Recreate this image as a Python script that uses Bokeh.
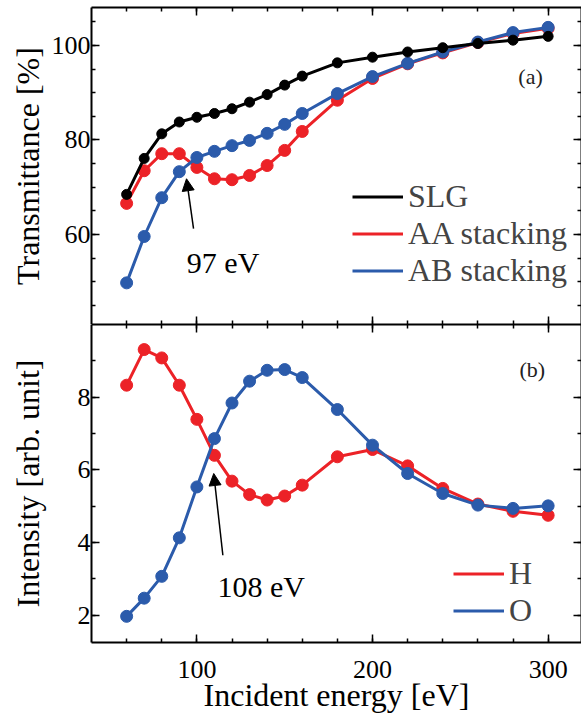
from bokeh.plotting import figure
from bokeh.models import (Range1d, LinearAxis, FixedTicker, Legend, LegendItem,
                          Label, Arrow, NormalHead, CustomJSTickFormatter)
from bokeh.layouts import column
from bokeh.embed import file_html
from bokeh.resources import INLINE

# ---------------- data ----------------
energy = [60, 70, 80, 90, 100, 110, 120, 130, 140, 150, 160, 180, 200, 220, 240, 260, 280, 300]
slg = [68.5, 76.1, 81.3, 83.8, 84.8, 85.6, 86.6, 88.0, 89.6, 91.6, 93.5, 96.3, 97.5, 98.6, 99.5, 100.4, 101.1, 101.9]
aa = [66.6, 73.5, 77.1, 77.1, 74.2, 71.8, 71.6, 72.5, 74.6, 77.8, 81.8, 88.4, 93.0, 96.1, 98.4, 100.6, 102.5, 103.6]
ab = [49.8, 59.6, 67.8, 73.3, 76.3, 77.6, 78.8, 79.9, 81.4, 83.3, 85.6, 89.8, 93.4, 96.2, 98.6, 100.7, 102.7, 103.8]
h_int = [8.33, 9.31, 9.08, 8.33, 7.39, 6.40, 5.69, 5.32, 5.17, 5.28, 5.58, 6.36, 6.56, 6.11, 5.49, 5.06, 4.86, 4.75]
o_int = [1.97, 2.47, 3.07, 4.13, 5.53, 6.86, 7.84, 8.44, 8.74, 8.76, 8.54, 7.66, 6.68, 5.90, 5.35, 5.03, 4.94, 5.01]

x_major = [100, 200, 300]
x_minor = list(range(60, 320, 20))
ya_major = [60, 80, 100]
ya_minor = list(range(45, 110, 5))
yb_major = [2, 4, 6, 8]
yb_minor = list(range(2, 10))

BLACK = "#000000"
RED = "#ec2227"
BLUE = "#2b5bab"
FONT = "Liberation Serif"

xr = Range1d(40, 319)


def style_axis(ax, labels):
    ax.axis_line_width = 2
    ax.axis_line_color = "black"
    ax.major_tick_in = 8
    ax.major_tick_out = 0
    ax.minor_tick_in = 4
    ax.minor_tick_out = 0
    ax.major_tick_line_width = 1.5
    ax.minor_tick_line_width = 1.5
    ax.major_tick_line_color = "black"
    ax.minor_tick_line_color = "black"
    if labels:
        ax.major_label_text_font = FONT
        ax.major_label_text_font_size = "26px"
        ax.major_label_text_color = "black"
        ax.axis_label_text_font = FONT
        ax.axis_label_text_font_size = "32px"
        ax.axis_label_text_font_style = "normal"
        ax.axis_label_text_color = "black"
    else:
        ax.formatter = CustomJSTickFormatter(code="return ''")
        ax.major_label_text_font_size = "1px"
        ax.major_label_standoff = 0
        ax.axis_label = None


def add_axes(p, xt, yt, ylabel, bottom_labels, xlabel=None, y_title_standoff=0):
    left = LinearAxis(ticker=yt, axis_label=ylabel)
    style_axis(left, True)
    left.major_label_standoff = 1
    left.axis_label_standoff = y_title_standoff
    p.add_layout(left, "left")
    right = LinearAxis(ticker=yt)
    style_axis(right, False)
    p.add_layout(right, "right")
    top = LinearAxis(ticker=xt)
    style_axis(top, False)
    p.add_layout(top, "above")
    bot = LinearAxis(ticker=xt)
    if bottom_labels:
        bot.axis_label = xlabel
        style_axis(bot, True)
        bot.major_label_standoff = 18
        bot.axis_label_standoff = -4
    else:
        style_axis(bot, False)
    p.add_layout(bot, "below")


def xticker():
    return FixedTicker(ticks=x_major, minor_ticks=x_minor)


# ---------------- panel (a) ----------------
pa = figure(x_range=xr, y_range=Range1d(41, 108), frame_width=490, frame_height=317,
            min_border=0, min_border_left=91, min_border_top=7, min_border_right=0,
            x_axis_location=None, y_axis_location=None,
            output_backend="svg", toolbar_location=None)
pa.grid.visible = False
pa.outline_line_color = None
add_axes(pa, xticker(), FixedTicker(ticks=ya_major, minor_ticks=ya_minor),
         "Transmittance [%]", False, y_title_standoff=3)

la = pa.line(energy, aa, line_color=RED, line_width=3)
pa.scatter(energy, aa, size=12, color=RED)
lb = pa.line(energy, ab, line_color=BLUE, line_width=3)
pa.scatter(energy, ab, size=12, color=BLUE)
ls = pa.line(energy, slg, line_color=BLACK, line_width=3)
pa.scatter(energy, slg, size=10, color=BLACK)

leg_a = Legend(items=[LegendItem(label="SLG", renderers=[ls]),
                      LegendItem(label="AA stacking", renderers=[la]),
                      LegendItem(label="AB stacking", renderers=[lb])],
               location=(261, 35), glyph_width=51, glyph_height=37, label_height=37,
               label_standoff=5, spacing=0, padding=0, margin=0,
               border_line_color=None, background_fill_alpha=0,
               label_text_font=FONT, label_text_font_size="32px")
pa.add_layout(leg_a)

pa.add_layout(Label(x=94.3, y=54.1, text="97 eV", text_font=FONT, text_font_size="30px",
                    text_baseline="alphabetic", text_align="left", text_color="black"))
pa.add_layout(Arrow(end=NormalHead(size=12, fill_color="black", line_color="black"),
                    x_start=98.1, y_start=61.25, x_end=94.1, y_end=71.8,
                    line_width=1.5, line_color="black"))
pa.add_layout(Label(x=290, y=93.4, text="(a)", text_font=FONT, text_font_size="22px",
                    text_baseline="middle", text_align="center", text_color="#222222"))

# ---------------- panel (b) ----------------
pb = figure(x_range=xr, y_range=Range1d(1.25, 10.0), frame_width=490, frame_height=318,
            min_border=0, min_border_left=91, min_border_bottom=78, min_border_right=0,
            x_axis_location=None, y_axis_location=None,
            output_backend="svg", toolbar_location=None)
pb.grid.visible = False
pb.outline_line_color = None
add_axes(pb, xticker(), FixedTicker(ticks=yb_major, minor_ticks=yb_minor),
         "Intensity [arb. unit]", True, "Incident energy [eV]", y_title_standoff=29)

lh = pb.line(energy, h_int, line_color=RED, line_width=3)
pb.scatter(energy, h_int, size=12, color=RED)
lo = pb.line(energy, o_int, line_color=BLUE, line_width=3)
pb.scatter(energy, o_int, size=12, color=BLUE)

leg_b = Legend(items=[LegendItem(label="H", renderers=[lh]),
                      LegendItem(label="O", renderers=[lo])],
               location=(362, 13), glyph_width=51, glyph_height=37, label_height=37,
               label_standoff=5, spacing=0, padding=0, margin=0,
               border_line_color=None, background_fill_alpha=0,
               label_text_font=FONT, label_text_font_size="32px")
pb.add_layout(leg_b)

pb.add_layout(Label(x=111.7, y=2.80, text="108 eV", text_font=FONT, text_font_size="30px",
                    text_baseline="alphabetic", text_align="left", text_color="black"))
pb.add_layout(Arrow(end=NormalHead(size=12, fill_color="black", line_color="black"),
                    x_start=114.8, y_start=3.65, x_end=109.6, y_end=5.90,
                    line_width=1.5, line_color="black"))
pb.add_layout(Label(x=291, y=8.77, text="(b)", text_font=FONT, text_font_size="22px",
                    text_baseline="middle", text_align="center", text_color="#222222"))

layout = column(pa, pb, spacing=0)
open("out.html", "w").write(file_html(layout, INLINE))
